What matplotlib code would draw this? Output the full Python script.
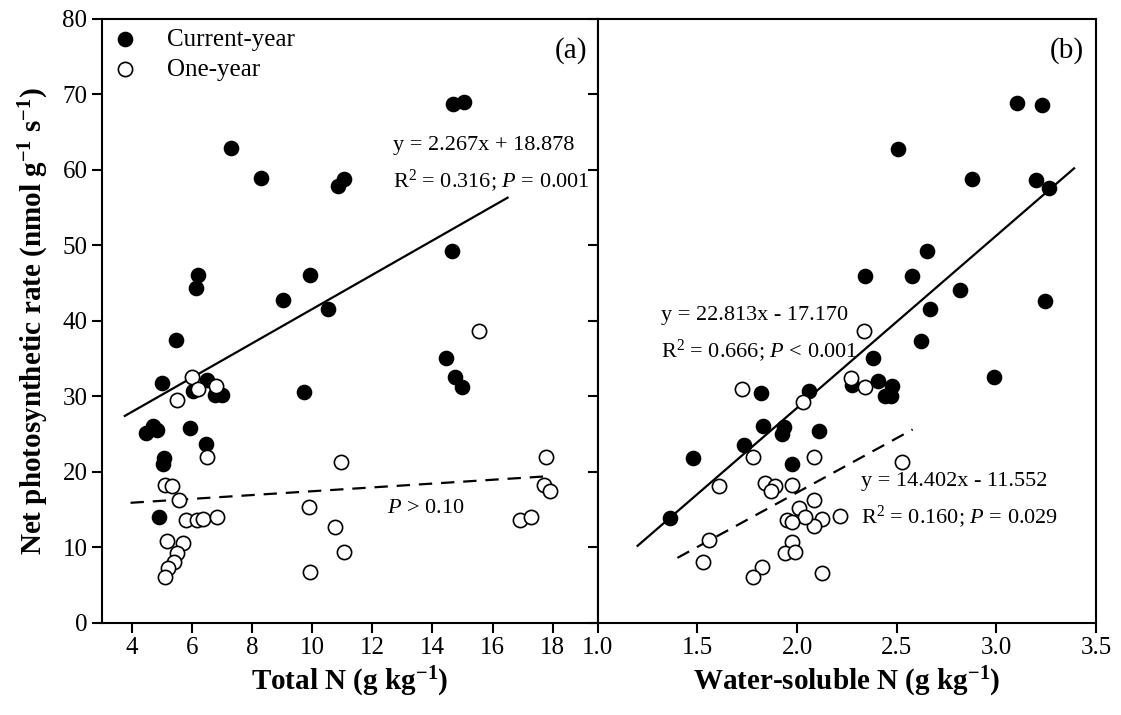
import matplotlib
matplotlib.use("Agg")
import matplotlib.pyplot as plt
import numpy as np

plt.rcParams['font.family'] = ['Liberation Serif', 'DejaVu Serif']
plt.rcParams['mathtext.fontset'] = 'custom'
plt.rcParams['mathtext.rm'] = 'Liberation Serif'
plt.rcParams['mathtext.it'] = 'Liberation Serif:italic'
plt.rcParams['mathtext.bf'] = 'Liberation Serif:bold'

# (a) total N vs net photosynthetic rate
totN_cur = [7.29, 8.28, 10.84, 11.07, 14.69, 15.06, 6.18, 6.12, 9.91, 9.04,
            10.52, 5.46, 5.00, 6.51, 6.03, 6.75, 6.98, 9.71, 4.70, 4.48,
            4.82, 5.92, 6.46, 5.07, 5.04, 4.90, 14.64, 14.45, 14.75, 14.98]
pn_cur_a = [62.9, 58.9, 57.8, 58.8, 68.7, 69.0, 46.0, 44.3, 46.0, 42.7,
            41.6, 37.5, 31.7, 32.1, 30.7, 30.2, 30.2, 30.5, 26.1, 25.2,
            25.5, 25.8, 23.7, 21.8, 21.1, 14.0, 49.2, 35.1, 32.5, 31.2]
totN_one = [6.01, 6.18, 6.78, 5.51, 6.50, 10.94, 5.09, 5.34, 5.56, 5.79,
            6.17, 6.37, 6.83, 9.88, 10.77, 11.05, 5.17, 5.70, 5.48, 5.39,
            5.18, 5.09, 9.93, 15.56, 17.78, 17.71, 17.90, 16.90, 17.28]
pn_one_a = [32.5, 31.0, 31.3, 29.5, 22.0, 21.3, 18.3, 18.1, 16.3, 13.6,
            13.6, 13.8, 14.0, 15.3, 12.7, 9.4, 10.9, 10.6, 9.2, 8.0,
            7.3, 6.1, 6.7, 38.7, 21.9, 18.2, 17.4, 13.6, 14.0]

# (b) water-soluble N vs net photosynthetic rate
wsN_cur = [3.103, 3.23, 2.508, 2.878, 3.20, 3.265, 2.653, 2.34, 2.575, 2.817,
           3.245, 2.665, 2.62, 2.38, 2.99, 2.408, 2.475, 2.278, 2.44, 2.47,
           2.06, 2.11, 1.82, 1.828, 1.933, 1.925, 1.733, 1.48, 1.973, 1.365]
pn_cur_b = [68.8, 68.5, 62.7, 58.7, 58.6, 57.6, 49.2, 45.9, 45.9, 44.1,
            42.6, 41.5, 37.3, 35.1, 32.5, 32.0, 31.3, 31.5, 30.1, 30.1,
            30.7, 25.4, 30.4, 26.0, 25.9, 25.0, 23.6, 21.8, 21.1, 13.9]
wsN_one = [2.337, 2.273, 2.34, 2.03, 2.087, 2.525, 2.087, 2.215, 2.125, 2.087,
           2.125, 1.725, 1.778, 1.608, 1.837, 1.89, 1.87, 1.975, 2.008, 2.04,
           1.95, 1.975, 1.558, 1.53, 1.975, 1.94, 1.99, 1.823, 1.78]
pn_one_b = [38.7, 32.4, 31.2, 29.3, 21.9, 21.3, 16.3, 14.1, 13.7, 12.8,
            6.6, 30.9, 22.0, 18.1, 18.5, 18.1, 17.4, 18.2, 15.2, 14.0,
            13.6, 13.4, 11.0, 8.0, 10.7, 9.3, 9.4, 7.4, 6.1]

# fitted lines: slope, intercept, x range
fit_a_cur = (2.267, 18.878, 3.76, 16.5)
fit_a_one = (0.253, 14.9, 3.95, 17.77)
fit_b_cur = (22.813, -17.170, 1.2, 3.39)
fit_b_one = (14.402, -11.552, 1.4, 2.58)

fig = plt.figure(figsize=(11.21, 7.15), dpi=100)
axa = fig.add_axes([0.091, 0.1288, 0.4422, 0.8453])
axb = fig.add_axes([0.5332, 0.1288, 0.4445, 0.8453])

ms = 105
for ax in (axa, axb):
    for s in ax.spines.values():
        s.set_linewidth(1.5)
    ax.set_ylim(0, 80)
    ax.set_yticks(np.arange(0, 81, 10))
    ax.tick_params(direction='out', length=7, width=1.5, labelsize=18)


def fitline(ax, fit, ls):
    k, b, x0, x1 = fit
    xx = np.array([x0, x1])
    if ls == 'solid':
        ax.plot(xx, k * xx + b, color='black', lw=1.6, zorder=2)
    else:
        ax.plot(xx, k * xx + b, color='black', lw=1.6, ls=(0, (6, 4)), zorder=2)


# panel a
axa.scatter(totN_cur, pn_cur_a, s=ms, c='black', edgecolors='black',
            linewidths=1.0, zorder=3, label='Current-year')
axa.scatter(totN_one, pn_one_a, s=ms, facecolors='white', edgecolors='black',
            linewidths=1.2, zorder=4, label='One-year')
fitline(axa, fit_a_cur, 'solid')
fitline(axa, fit_a_one, 'dashed')
axa.set_xlim(3, 19.5)
axa.set_xticks(np.arange(4, 19, 2))
axa.set_xlabel(r'Total N (g kg$^{\mathbf{-1}}$)', fontsize=21, fontweight='bold')
axa.set_ylabel(r'Net photosynthetic rate (nmol g$^{\mathbf{-1}}$ s$^{\mathbf{-1}}$)',
               fontsize=21, fontweight='bold', labelpad=8)
axa.text(19.15, 75.8, '(a)', fontsize=21, ha='right', va='center')
axa.text(12.67, 63.2, 'y = 2.267x + 18.878', fontsize=16, va='center')
axa.text(12.67, 58.6, r'R$^2$ = 0.316; $P$ = 0.001', fontsize=16, va='center')
axa.text(12.5, 15.1, r'$P$ > 0.10', fontsize=16, va='center')
axa.legend(loc='upper left', bbox_to_anchor=(0.0, 1.0), frameon=False,
           fontsize=18, handlelength=1.0, handletextpad=1.2, labelspacing=0.3,
           borderaxespad=0.1, borderpad=0.3)

# panel b
axb.scatter(wsN_cur, pn_cur_b, s=ms, c='black', edgecolors='black',
            linewidths=1.0, zorder=3)
axb.scatter(wsN_one, pn_one_b, s=ms, facecolors='white', edgecolors='black',
            linewidths=1.2, zorder=4)
fitline(axb, fit_b_cur, 'solid')
fitline(axb, fit_b_one, 'dashed')
axb.set_xlim(1.0, 3.5)
axb.set_xticks(np.arange(1.0, 3.51, 0.5))
axb.set_xticklabels(['%.1f' % v for v in np.arange(1.0, 3.51, 0.5)])
axb.tick_params(axis='y', labelleft=False)
axb.set_xlabel(r'Water-soluble N (g kg$^{\mathbf{-1}}$)', fontsize=21, fontweight='bold')
axb.text(3.437, 75.8, '(b)', fontsize=21, ha='right', va='center')
axb.text(1.32, 40.7, 'y = 22.813x - 17.170', fontsize=16, va='center')
axb.text(1.32, 36.1, r'R$^2$ = 0.666; $P$ < 0.001', fontsize=16, va='center')
axb.text(2.32, 18.7, 'y = 14.402x - 11.552', fontsize=16, va='center')
axb.text(2.32, 14.1, r'R$^2$ = 0.160; $P$ = 0.029', fontsize=16, va='center')

fig.savefig('out.png', dpi=100)
